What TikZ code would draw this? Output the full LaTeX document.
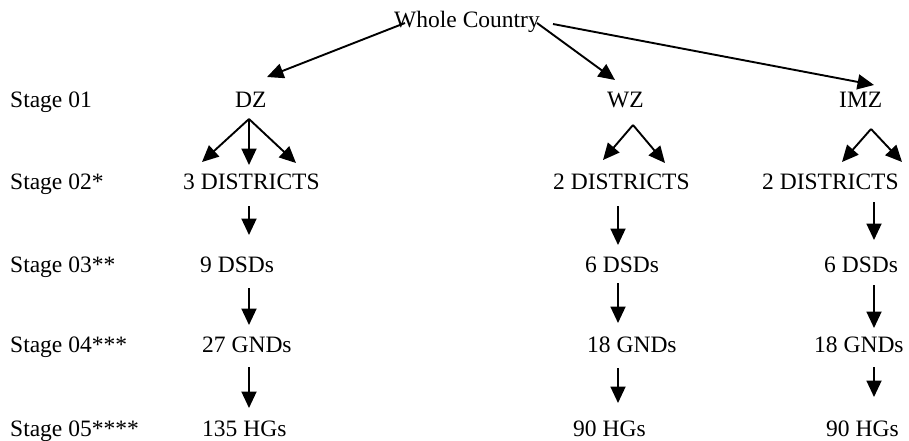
\documentclass[tikz,border=0pt]{standalone}
\usepackage{fontspec}
\setmainfont{Liberation Serif}
\usetikzlibrary{arrows.meta}
\begin{document}
\begin{tikzpicture}[x=1pt,y=-1pt,
  lbl/.style={anchor=base west,inner sep=0pt,font=\fontsize{23.5}{28}\selectfont},
  arr/.style={line width=1.9pt,-{Triangle[length=16.5pt,width=15pt]}}]
\useasboundingbox (0,0) rectangle (909,440);
% title
\node[anchor=base,inner sep=0pt,font=\fontsize{23.5}{28}\selectfont] (wc) at (467,27) {Whole Country};
% stage labels
\node[lbl] (s1) at (10,107.5) {Stage 01};
\node[lbl] (s2) at (10,189.5) {Stage 02*};
\node[lbl] (s3) at (10,272.5) {Stage 03**};
\node[lbl] (s4) at (10,352.5) {Stage 04***};
\node[lbl] (s5) at (10,436) {Stage 05****};
% DZ column
\node[lbl] (dz) at (235,107.5) {DZ};
\node[lbl] (dzd) at (183,189.5) {3 DISTRICTS};
\node[lbl] (dzs) at (200,272.5) {9 DSDs};
\node[lbl] (dzg) at (202,352.5) {27 GNDs};
\node[lbl] (dzh) at (202,436) {135 HGs};
% WZ column
\node[lbl] (wz) at (607,107.5) {WZ};
\node[lbl] (wzd) at (553,189.5) {2 DISTRICTS};
\node[lbl] (wzs) at (585,272.5) {6 DSDs};
\node[lbl] (wzg) at (587,352.5) {18 GNDs};
\node[lbl] (wzh) at (573,436) {90 HGs};
% IMZ column
\node[lbl] (imz) at (839,107.5) {IMZ};
\node[lbl] (imzd) at (762,189.5) {2 DISTRICTS};
\node[lbl] (imzs) at (824,272.5) {6 DSDs};
\node[lbl] (imzg) at (814,352.5) {18 GNDs};
\node[lbl] (imzh) at (826,436) {90 HGs};
% connector end points
\coordinate (wcA) at (405,23);
\coordinate (wcB) at (537,23);
\coordinate (wcC) at (553,24);
\coordinate (dzT) at (267,77);
\coordinate (wzT) at (615,80);
\coordinate (imzT) at (874,85);
\coordinate (dzF) at (249,119);
\coordinate (wzF) at (633,125);
\coordinate (imzF) at (871,129);
% top level
\draw[arr] (wcA) -- (dzT);
\draw[arr] (wcB) -- (wzT);
\draw[arr] (wcC) -- (imzT);
% fans
\draw[arr] (dzF) -- (202,162);
\draw[arr] (dzF) -- (249,165);
\draw[arr] (dzF) -- (296,163);
\draw[arr] (wzF) -- (603,160);
\draw[arr] (wzF) -- (665,163);
\draw[arr] (imzF) -- (842,162);
\draw[arr] (imzF) -- (902,162);
% down arrows
\draw[arr] (249,206) -- (249,235);
\draw[arr] (249,288) -- (249,325);
\draw[arr] (249,367) -- (249,408);
\draw[arr] (618,206) -- (618,245);
\draw[arr] (618,283) -- (618,323);
\draw[arr] (618,368) -- (618,403);
\draw[arr] (874,202) -- (874,240);
\draw[arr] (874,285) -- (874,328);
\draw[arr] (874,367) -- (874,397);
\end{tikzpicture}
\end{document}
